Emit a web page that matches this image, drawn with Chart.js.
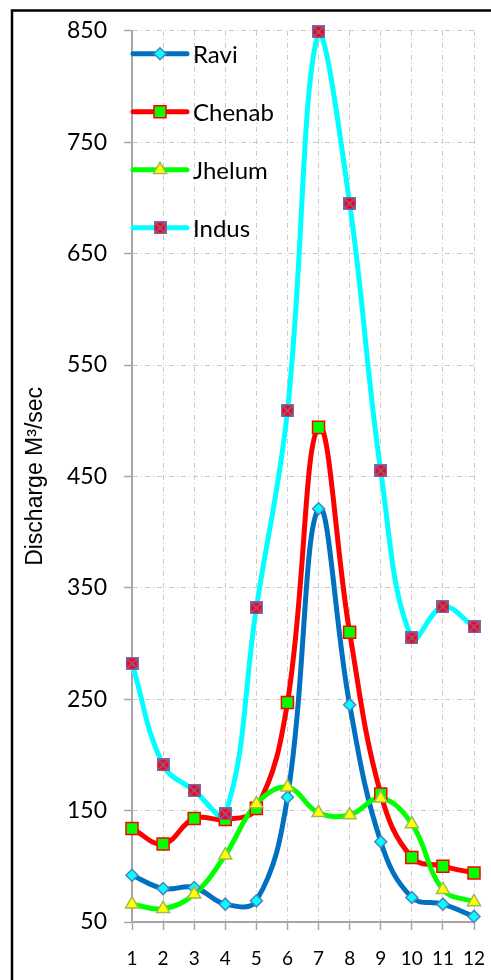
<!DOCTYPE html>
<html>
<head>
<meta charset="utf-8">
<title>Discharge</title>
<script src="https://cdn.jsdelivr.net/npm/chart.js@4.4.1/dist/chart.umd.min.js"></script>
<style>
  html, body { margin: 0; padding: 0; background: #fff; overflow: hidden; }
  canvas { display: block; }
</style>
</head>
<body>
<canvas id="dischargeChart" width="491" height="980"></canvas>
<script>
const MONTHS = ["1", "2", "3", "4", "5", "6", "7", "8", "9", "10", "11", "12"];
const RAVI = [92, 80, 81, 66, 69, 162, 421, 245, 122, 72, 66, 55];
const CHENAB = [134, 120, 143, 142, 152, 247, 494, 310, 165, 108, 100, 94];
const JHELUM = [66, 62, 75, 110, 156, 171, 148, 146, 161, 138, 79, 68];
const INDUS = [282, 191, 168, 147, 332, 509, 849, 695, 455, 305, 333, 315];
const Y_TICKS = [50, 150, 250, 350, 450, 550, 650, 750, 850];

const GRID_COLOR = "#C9C9C9";
const AXIS_COLOR = "#A6A6A6";

function makeIndusMarker() {
  const size = 13;
  const marker = document.createElement("canvas");
  marker.width = size;
  marker.height = size;
  const ctx = marker.getContext("2d");
  ctx.fillStyle = "#FF0000";
  ctx.fillRect(0, 0, size, size);
  ctx.strokeStyle = "#7A68B0";
  ctx.lineWidth = 1.5;
  ctx.strokeRect(0.75, 0.75, size - 1.5, size - 1.5);
  ctx.beginPath();
  ctx.moveTo(1.5, 1.5);
  ctx.lineTo(size - 1.5, size - 1.5);
  ctx.moveTo(size - 1.5, 1.5);
  ctx.lineTo(1.5, size - 1.5);
  ctx.stroke();
  return marker;
}

const SERIES = [
  { name: "Ravi", data: RAVI, line: "#0070C0", fill: "#00FFFF", border: "#4F81BD", style: "rectRot", radius: 6 },
  { name: "Chenab", data: CHENAB, line: "#FF0000", fill: "#00FF00", border: "#FF0000", style: "rect", radius: 8.5 },
  { name: "Jhelum", data: JHELUM, line: "#00FF00", fill: "#FFFF00", border: "#9BBB59", style: "triangle", radius: 7.5 },
  { name: "Indus", data: INDUS, line: "#00FFFF", fill: "#FF0000", border: "#7A68B0", style: makeIndusMarker(), radius: 7 }
];

const backgroundPlugin = {
  id: "frame",
  beforeDraw(chart) {
    const { ctx, width, height } = chart;
    ctx.save();
    ctx.fillStyle = "#ffffff";
    ctx.fillRect(0, 0, width, height);
    ctx.strokeStyle = "#000000";
    ctx.lineWidth = 2.5;
    ctx.beginPath();
    ctx.moveTo(12, height + 5);
    ctx.lineTo(12, 10.5);
    ctx.lineTo(width + 5, 10.5);
    ctx.stroke();
    ctx.restore();
  }
};

const legendPlugin = {
  id: "insideLegend",
  afterDatasetsDraw(chart) {
    const { ctx, chartArea } = chart;
    SERIES.forEach((series, index) => {
      const x = chartArea.left;
      const y = chartArea.top + 23 + index * 58;
      ctx.save();
      ctx.strokeStyle = series.line;
      ctx.lineWidth = 5;
      ctx.lineCap = "round";
      ctx.beginPath();
      ctx.moveTo(x + 1, y);
      ctx.lineTo(x + 55, y);
      ctx.stroke();
      ctx.fillStyle = series.fill;
      ctx.strokeStyle = series.border;
      ctx.lineWidth = 1.5;
      Chart.helpers.drawPoint(ctx, {
        pointStyle: series.style,
        radius: series.radius,
        rotation: 0,
        borderWidth: 1.5
      }, x + 28, y);
      ctx.fillStyle = "#000000";
      ctx.font = "24px Lato";
      ctx.textBaseline = "middle";
      ctx.textAlign = "left";
      ctx.fillText(series.name, x + 61, y + 1);
      ctx.restore();
    });
  }
};

function buildDatasets() {
  const lines = SERIES.map((series, index) => ({
    label: series.name,
    data: series.data,
    borderColor: series.line,
    borderWidth: 5,
    tension: 0.4,
    pointRadius: 0,
    fill: false,
    clip: false,
    order: 10 - index
  }));

  const markers = SERIES.map((series, index) => ({
    label: series.name + " markers",
    data: series.data,
    showLine: false,
    pointStyle: series.style,
    pointRadius: series.radius,
    pointBackgroundColor: series.fill,
    pointBorderColor: series.border,
    pointBorderWidth: 1.5,
    clip: false,
    order: 5 - index
  }));

  return lines.concat(markers);
}

function renderChart() {
  const canvas = document.getElementById("dischargeChart");

  new Chart(canvas, {
    type: "line",
    data: {
      labels: MONTHS,
      datasets: buildDatasets()
    },
    plugins: [backgroundPlugin, legendPlugin],
    options: {
      responsive: false,
      animation: false,
      layout: {
        padding: { top: 30, right: 17, left: 12, bottom: 0 }
      },
      plugins: {
        legend: { display: false },
        tooltip: { enabled: false }
      },
      scales: {
        x: {
          offset: false,
          afterFit(scale) {
            scale.height = 58;
            scale.paddingLeft = 0;
            scale.paddingRight = 0;
          },
          grid: {
            offset: false,
            color: GRID_COLOR,
            lineWidth: 1,
            tickLength: 8,
            tickColor: AXIS_COLOR,
            tickWidth: 1.5,
            tickBorderDash: []
          },
          border: { color: AXIS_COLOR, width: 2, dash: [5, 3, 1, 3] },
          ticks: {
            color: "#000000",
            padding: 17,
            maxRotation: 0,
            autoSkip: false,
            font: { family: "Lato", size: 19 }
          }
        },
        y: {
          min: 50,
          max: 850,
          afterBuildTicks(scale) {
            scale.ticks = Y_TICKS.map((value) => ({ value }));
          },
          afterFit(scale) {
            scale.width = 120;
          },
          grid: {
            color: GRID_COLOR,
            lineWidth: 1,
            tickLength: 8,
            tickColor: AXIS_COLOR,
            tickWidth: 1.5,
            tickBorderDash: []
          },
          border: { color: AXIS_COLOR, width: 2, dash: [5, 3, 1, 3] },
          ticks: {
            color: "#000000",
            padding: 17,
            font: { family: "Lato", size: 23 }
          },
          title: {
            display: true,
            text: "Discharge M³/sec",
            color: "#000000",
            padding: { top: 10, bottom: 0 },
            font: { family: "Liberation Sans", size: 23 }
          }
        }
      }
    }
  });
}

document.fonts.load("24px Lato").then(renderChart, renderChart);
</script>
</body>
</html>
